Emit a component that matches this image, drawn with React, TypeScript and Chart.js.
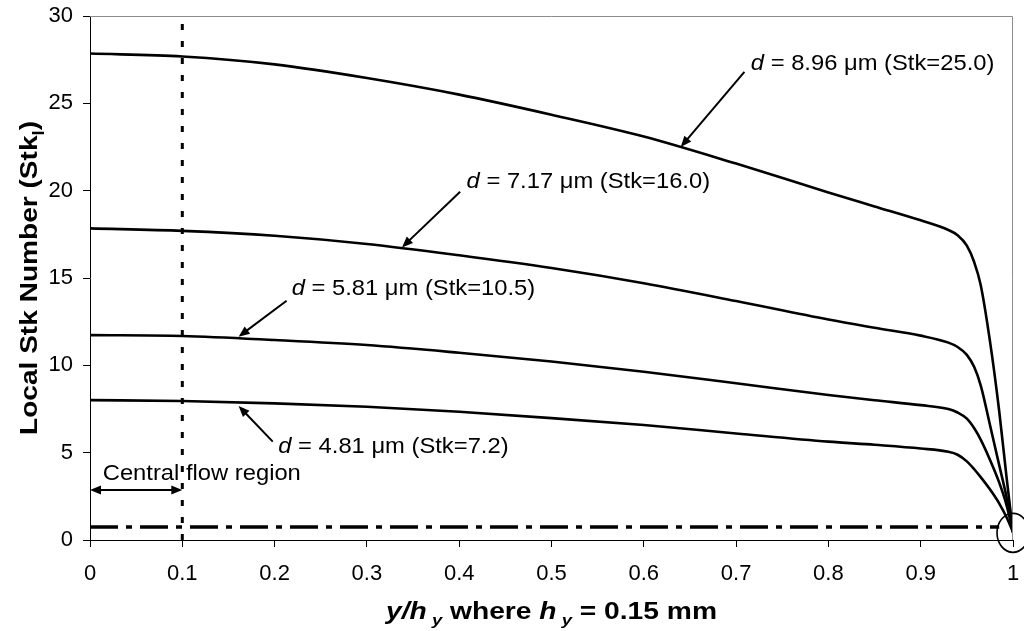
import React, { useEffect, useRef } from "react";
import { Chart, registerables } from "chart.js";

Chart.register(...registerables);

// ---------- data ----------
const xPositions = [0, 0.1, 0.2, 0.3, 0.4, 0.5, 0.6, 0.7, 0.8, 0.85, 0.9, 0.93, 0.94, 0.95, 0.958, 0.965, 0.975, 0.985, 0.993, 1.0];
const stk250 = [27.85, 27.68, 27.23, 26.45, 25.5, 24.35, 23.1, 21.55, 19.9, 19.1, 18.3, 17.75, 17.45, 16.85, 15.9, 14.6, 11.4, 7.4, 3.6, 0.45];
const stk160 = [17.84, 17.7, 17.42, 16.95, 16.3, 15.57, 14.7, 13.68, 12.62, 12.15, 11.7, 11.3, 11.05, 10.6, 9.9, 8.85, 6.6, 4.3, 2.45, 0.45];
const stk105 = [11.73, 11.68, 11.45, 11.16, 10.72, 10.22, 9.63, 8.97, 8.3, 8.0, 7.72, 7.5, 7.3, 6.95, 6.4, 5.75, 4.6, 3.3, 2.0, 0.45];
const stk72 = [8.01, 7.96, 7.82, 7.63, 7.34, 6.98, 6.58, 6.1, 5.63, 5.45, 5.24, 5.05, 4.88, 4.5, 4.05, 3.6, 2.9, 2.1, 1.3, 0.45];
const xTicks = [0, 0.1, 0.2, 0.3, 0.4, 0.5, 0.6, 0.7, 0.8, 0.9, 1];
const yTicks = [0, 5, 10, 15, 20, 25, 30];
const criticalStk = 0.75; // dash-dot reference level
const centralFlowEdge = 0.1; // edge of the central flow region
const criticalLineEnd = 0.985;

const curveLabels = ["8.96", "7.17", "5.81", "4.81"];
const curveStk = ["25.0", "16.0", "10.5", "7.2"];

// annotation placement (data coordinates)
const labelAnchors = [
  { x: 0.716, y: 26.9 },
  { x: 0.408, y: 20.13 },
  { x: 0.2185, y: 14.02 },
  { x: 0.204, y: 4.96 },
];
const arrowTails = [
  { x: 0.709, y: 26.8 },
  { x: 0.401, y: 19.94 },
  { x: 0.213, y: 13.7 },
  { x: 0.198, y: 5.63 },
];
const arrowTips = [
  { x: 0.64, y: 22.5 },
  { x: 0.338, y: 16.75 },
  { x: 0.161, y: 11.64 },
  { x: 0.161, y: 7.67 },
];
const centralLabelAnchor = { x: 0.0138, y: 3.43 };
const centralArrowY = 2.86;
const circleCenter = { x: 1.0, y: 0.41 };

const FONT = "'Liberation Sans', Arial, Helvetica, sans-serif";

type Seg = { t: string; italic?: boolean; bold?: boolean; sub?: boolean };

function segFont(s: Seg, size: number) {
  const sz = s.sub ? Math.round(size * 0.66) : size;
  return `${s.italic ? "italic " : ""}${s.bold ? "bold " : ""}${sz}px ${FONT}`;
}

function measureRich(ctx: CanvasRenderingContext2D, segs: Seg[], size: number) {
  let w = 0;
  for (const s of segs) {
    ctx.font = segFont(s, size);
    w += ctx.measureText(s.t).width;
  }
  return w;
}

function drawRichAt(ctx: CanvasRenderingContext2D, segs: Seg[], size: number, startX: number) {
  let x = startX;
  ctx.textBaseline = "alphabetic";
  ctx.textAlign = "left";
  for (const s of segs) {
    ctx.font = segFont(s, size);
    ctx.fillText(s.t, x, s.sub ? size * 0.28 : 0);
    x += ctx.measureText(s.t).width;
  }
}

function arrowHead(ctx: CanvasRenderingContext2D, fx: number, fy: number, tx: number, ty: number, len: number, half: number) {
  const a = Math.atan2(ty - fy, tx - fx);
  ctx.beginPath();
  ctx.moveTo(tx, ty);
  ctx.lineTo(tx - len * Math.cos(a) + half * Math.sin(a), ty - len * Math.sin(a) - half * Math.cos(a));
  ctx.lineTo(tx - len * Math.cos(a) - half * Math.sin(a), ty - len * Math.sin(a) + half * Math.cos(a));
  ctx.closePath();
  ctx.fill();
}

function labelSegs(i: number): Seg[] {
  return [
    { t: "d", italic: true },
    { t: ` = ${curveLabels[i]} \u03bcm (Stk=${curveStk[i]})` },
  ];
}

const annotationPlugin = {
  id: "annotations",
  afterDraw(chart: any) {
    const ctx: CanvasRenderingContext2D = chart.ctx;
    const xs = chart.scales.x;
    const ys = chart.scales.y;
    const area = chart.chartArea;
    const px = (v: number) => xs.getPixelForValue(v);
    const py = (v: number) => ys.getPixelForValue(v);
    ctx.save();

    // grey frame top / right
    ctx.strokeStyle = "#8c8c8c";
    ctx.lineWidth = 1;
    ctx.beginPath();
    ctx.moveTo(area.left, Math.round(area.top) + 0.5);
    ctx.lineTo(Math.round(area.right) - 0.5, Math.round(area.top) + 0.5);
    ctx.lineTo(Math.round(area.right) - 0.5, area.bottom);
    ctx.stroke();

    ctx.fillStyle = "#000";
    ctx.strokeStyle = "#000";

    const size = 22;
    const sx = 1.08;
    for (let i = 0; i < labelAnchors.length; i++) {
      ctx.save();
      ctx.translate(px(labelAnchors[i].x), py(labelAnchors[i].y));
      ctx.scale(sx, 1);
      drawRichAt(ctx, labelSegs(i), size, 0);
      ctx.restore();
      const fx = px(arrowTails[i].x), fy = py(arrowTails[i].y);
      const tx = px(arrowTips[i].x), ty = py(arrowTips[i].y);
      ctx.lineWidth = 2;
      ctx.beginPath();
      const a = Math.atan2(ty - fy, tx - fx);
      ctx.moveTo(fx, fy);
      ctx.lineTo(tx - 8 * Math.cos(a), ty - 8 * Math.sin(a));
      ctx.stroke();
      arrowHead(ctx, fx, fy, tx, ty, 11, 4.5);
    }

    // central flow region
    ctx.save();
    ctx.translate(px(centralLabelAnchor.x), py(centralLabelAnchor.y));
    ctx.scale(sx, 1);
    drawRichAt(ctx, [{ t: "Central flow region" }], size, 0);
    ctx.restore();
    {
      const y = py(centralArrowY);
      const x0 = px(0), x1 = px(centralFlowEdge);
      ctx.lineWidth = 2;
      ctx.beginPath();
      ctx.moveTo(x0 + 8, y);
      ctx.lineTo(x1 - 8, y);
      ctx.stroke();
      arrowHead(ctx, x1, y, x0, y, 11, 4.5);
      arrowHead(ctx, x0, y, x1, y, 11, 4.5);
    }

    // circle at the wall
    ctx.lineWidth = 1.6;
    ctx.beginPath();
    ctx.ellipse(px(circleCenter.x), py(circleCenter.y), 16, 19.5, 0, 0, Math.PI * 2);
    ctx.stroke();

    // x axis title
    const xTitle: Seg[] = [
      { t: "y/h", italic: true, bold: true },
      { t: " y", italic: true, bold: true, sub: true },
      { t: " where ", bold: true },
      { t: "h", italic: true, bold: true },
      { t: " y", italic: true, bold: true, sub: true },
      { t: " = 0.15 mm", bold: true },
    ];
    {
      const tsize = 23;
      const w = measureRich(ctx, xTitle, tsize);
      const target = 331;
      ctx.save();
      ctx.translate((area.left + area.right) / 2, 619);
      ctx.scale(target / w, 1);
      drawRichAt(ctx, xTitle, tsize, -w / 2);
      ctx.restore();
    }
    // y axis title
    const yTitle: Seg[] = [
      { t: "Local Stk Number (Stk", bold: true },
      { t: "l", bold: true, sub: true },
      { t: ")", bold: true },
    ];
    {
      const tsize = 23;
      const w = measureRich(ctx, yTitle, tsize);
      const target = 314;
      ctx.save();
      ctx.translate(37, (area.top + area.bottom) / 2);
      ctx.rotate(-Math.PI / 2);
      ctx.scale(target / w, 1.08);
      drawRichAt(ctx, yTitle, tsize, -w / 2);
      ctx.restore();
    }
    ctx.restore();
  },
};

function pts(ys: number[]) {
  return xPositions.map((x, i) => ({ x, y: ys[i] }));
}

function zeroPad(s: any) {
  s.paddingTop = 0;
  s.paddingBottom = 0;
  s.paddingLeft = 0;
  s.paddingRight = 0;
}

export default function App() {
  const ref = useRef<HTMLCanvasElement | null>(null);
  useEffect(() => {
    if (!ref.current) return;
    const curve = (data: number[]) => ({
      data: pts(data),
      borderColor: "#000",
      borderWidth: 2.6,
      pointRadius: 0,
      fill: false,
      cubicInterpolationMode: "monotone" as const,
    });
    const chart = new Chart(ref.current, {
      type: "line",
      data: {
        datasets: [
          curve(stk250),
          curve(stk160),
          curve(stk105),
          curve(stk72),
          {
            data: [
              { x: centralFlowEdge, y: yTicks[0] },
              { x: centralFlowEdge, y: yTicks[yTicks.length - 1] },
            ],
            borderColor: "#000",
            borderWidth: 3,
            borderDash: [6, 11],
            pointRadius: 0,
            fill: false,
          },
          {
            data: [
              { x: 0, y: criticalStk },
              { x: criticalLineEnd, y: criticalStk },
            ],
            borderColor: "#000",
            borderWidth: 3.5,
            borderDash: [28, 8, 6, 8],
            pointRadius: 0,
            fill: false,
          },
        ],
      },
      options: {
        responsive: false,
        animation: false,
        events: [],
        layout: { padding: { left: 0, top: 16, right: 11, bottom: 0 } },
        plugins: { legend: { display: false }, tooltip: { enabled: false }, title: { display: false } },
        scales: {
          x: {
            type: "linear",
            min: 0,
            max: 1,
            afterBuildTicks: (s: any) => {
              s.ticks = xTicks.map((v) => ({ value: v }));
            },
            afterFit: (s: any) => {
              s.height = 91;
              zeroPad(s);
            },
            ticks: {
              color: "#000",
              font: { family: FONT, size: 22 },
              padding: 14,
              maxRotation: 0,
              autoSkip: false,
              callback: (v: any) => String(Math.round(Number(v) * 10) / 10),
            },
            grid: { drawOnChartArea: false, drawTicks: true, tickLength: 7, color: "#000", lineWidth: 1 },
            border: { display: true, color: "#000", width: 1 },
          },
          y: {
            type: "linear",
            min: 0,
            max: 30,
            afterBuildTicks: (s: any) => {
              s.ticks = yTicks.map((v) => ({ value: v }));
            },
            afterFit: (s: any) => {
              s.width = 90;
              zeroPad(s);
            },
            ticks: {
              color: "#000",
              font: { family: FONT, size: 22 },
              padding: 10,
              autoSkip: false,
              callback: (v: any) => String(v),
            },
            grid: { drawOnChartArea: false, drawTicks: true, tickLength: 7, color: "#000", lineWidth: 1 },
            border: { display: true, color: "#000", width: 1 },
          },
        },
      },
      plugins: [annotationPlugin],
    });
    return () => chart.destroy();
  }, []);
  return (
    <div style={{ position: "fixed", left: 0, top: 0, width: 1024, height: 631, background: "#fff" }}>
      <canvas ref={ref} width={1024} height={631} style={{ display: "block" }} />
    </div>
  );
}
